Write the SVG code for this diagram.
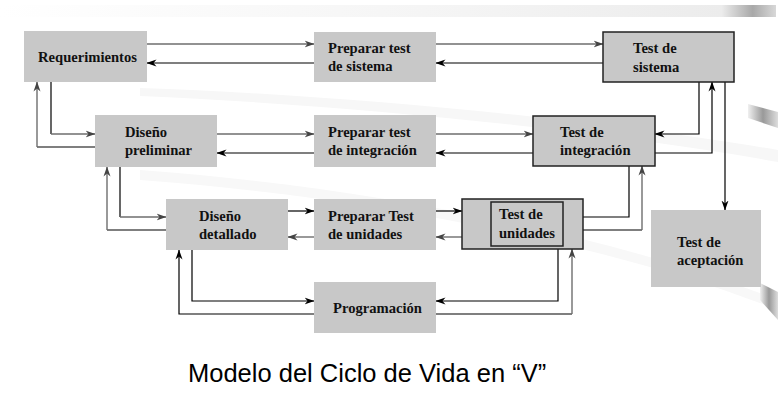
<svg xmlns="http://www.w3.org/2000/svg" width="780" height="415" viewBox="0 0 780 415">
<style>
.box{fill:#c8c8c8}
.bx{fill:#c8c8c8;stroke:#222;stroke-width:1.5}
.t{font-family:"Liberation Serif","Times New Roman",serif;font-weight:bold;font-size:14.6px;fill:#111}
.k{fill:none;stroke:#000;stroke-width:1.2}
.g{fill:none;stroke:#6e6e6e;stroke-width:1.4}
.cap{font-family:"Liberation Sans",Arial,sans-serif;font-size:25.5px;fill:#000}
</style>
<defs>
<marker id="ak" viewBox="0 0 10 8" refX="9.5" refY="4" markerWidth="10" markerHeight="8" markerUnits="userSpaceOnUse" orient="auto">
<path d="M0,0.5 L10,4 L0,7.5 L3,4 z" fill="#000"/>
</marker>
<marker id="ag" viewBox="0 0 10 8" refX="9.5" refY="4" markerWidth="10" markerHeight="8" markerUnits="userSpaceOnUse" orient="auto">
<path d="M0,0.5 L10,4 L0,7.5 L3,4 z" fill="#444"/>
</marker>
<linearGradient id="band" x1="0" y1="0" x2="1" y2="0">
<stop offset="0" stop-color="#fff"/>
<stop offset="0.6" stop-color="#f4f4f4"/>
<stop offset="0.93" stop-color="#ececec"/>
<stop offset="0.97" stop-color="#a8a8a8"/>
<stop offset="1" stop-color="#d8d8d8"/>
</linearGradient>
<linearGradient id="edge" x1="0" y1="0" x2="1" y2="0">
<stop offset="0" stop-color="#f0f0f0"/>
<stop offset="0.5" stop-color="#999"/>
<stop offset="1" stop-color="#ddd"/>
</linearGradient>
</defs>
<rect width="780" height="415" fill="#fff"/>
<g id="background">
<rect x="0" y="5" width="776" height="12" fill="url(#band)"/>
<path d="M140,88 C350,95 600,120 778,150 L778,162 C600,130 350,105 140,96 z" fill="#f7f7f7"/>
<path d="M140,170 C350,185 600,230 778,300 L778,310 C600,240 350,195 140,180 z" fill="#f8f8f8"/>
<path d="M748,104 L778,112 L778,128 L748,118 z" fill="url(#edge)"/>
<path d="M760,283 L778,292 L778,320 L760,300 z" fill="url(#edge)"/>
</g>
<g id="connectors">
<path class="g" d="M147,44 H314" marker-end="url(#ag)"/>
<path class="k" d="M314,63 H147" marker-end="url(#ak)"/>
<path class="g" d="M436,44 H603" marker-end="url(#ag)"/>
<path class="k" d="M603,63 H436" marker-end="url(#ak)"/>
<path class="g" d="M217,134 H314" marker-end="url(#ag)"/>
<path class="k" d="M314,153 H217" marker-end="url(#ak)"/>
<path class="g" d="M436,134 H533" marker-end="url(#ag)"/>
<path class="k" d="M533,153 H436" marker-end="url(#ak)"/>
<path class="k" d="M288,211 H314" marker-end="url(#ak)"/>
<path class="g" d="M314,237 H288" marker-end="url(#ag)"/>
<path class="k" d="M436,211 H462" marker-end="url(#ak)"/>
<path class="g" d="M462,237 H436" marker-end="url(#ag)"/>
<path class="k" d="M51,82 V134"/>
<path class="g" d="M51,134 H95" marker-end="url(#ag)"/>
<path class="k" d="M95,147 H37"/>
<path class="g" d="M37,147 V82" marker-end="url(#ag)"/>
<path class="k" d="M120,167 V217"/>
<path class="g" d="M120,217 H166" marker-end="url(#ag)"/>
<path class="k" d="M166,230 H107"/>
<path class="g" d="M107,230 V167" marker-end="url(#ag)"/>
<path class="k" d="M192,250 V301 H314" marker-end="url(#ak)"/>
<path class="k" d="M314,314 H179 V250" marker-end="url(#ak)"/>
<path class="k" d="M558,249 V301 H436" marker-end="url(#ak)"/>
<path class="k" d="M436,314 H572"/>
<path class="g" d="M572,314 V249" marker-end="url(#ag)"/>
<path class="k" d="M699,82 V134 H655" marker-end="url(#ak)"/>
<path class="k" d="M655,153 H712 V82" marker-end="url(#ak)"/>
<path class="k" d="M629,166 V217 H583"/>
<path class="k" d="M583,230 H642"/>
<path class="g" d="M642,230 V166" marker-end="url(#ag)"/>
<path class="k" d="M725,82 V210" marker-end="url(#ak)"/>
</g>
<g id="requerimientos">
<rect class="box" x="24" y="31" width="123" height="51"/>
<text class="t" x="38" y="62">Requerimientos</text>
</g>
<g id="preparar-test-sistema">
<rect class="box" x="314" y="32" width="122" height="50"/>
<text class="t" x="328" y="53">Preparar test</text>
<text class="t" x="328" y="71">de sistema</text>
</g>
<g id="test-sistema">
<rect class="bx" x="603" y="32" width="131" height="50"/>
<text class="t" x="633" y="53">Test de</text>
<text class="t" x="633" y="72">sistema</text>
</g>
<g id="diseno-preliminar">
<rect class="box" x="95" y="115" width="122" height="52"/>
<text class="t" x="125" y="137">Diseño</text>
<text class="t" x="125" y="155">preliminar</text>
</g>
<g id="preparar-test-integracion">
<rect class="box" x="314" y="115" width="122" height="52"/>
<text class="t" x="328" y="137">Preparar test</text>
<text class="t" x="328" y="155">de integración</text>
</g>
<g id="test-integracion">
<rect class="bx" x="533" y="116" width="122" height="50"/>
<text class="t" x="560" y="137">Test de</text>
<text class="t" x="560" y="155">integración</text>
</g>
<g id="diseno-detallado">
<rect class="box" x="166" y="199" width="122" height="51"/>
<text class="t" x="199" y="221">Diseño</text>
<text class="t" x="199" y="239">detallado</text>
</g>
<g id="preparar-test-unidades">
<rect class="box" x="314" y="199" width="122" height="51"/>
<text class="t" x="328" y="221">Preparar Test</text>
<text class="t" x="328" y="239">de unidades</text>
</g>
<g id="test-unidades">
<rect class="bx" x="462" y="199" width="121" height="50"/>
<rect class="bx" x="491" y="202" width="72" height="44"/>
<text class="t" x="499" y="219">Test de</text>
<text class="t" x="499" y="238">unidades</text>
</g>
<g id="test-aceptacion">
<rect class="box" x="651" y="210" width="110" height="77"/>
<text class="t" x="677" y="247">Test de</text>
<text class="t" x="677" y="265">aceptación</text>
</g>
<g id="programacion">
<rect class="box" x="314" y="282" width="122" height="51"/>
<text class="t" x="333" y="313">Programación</text>
</g>
<text class="cap" x="188" y="381.5">Modelo del Ciclo de Vida en “V”</text>
</svg>
